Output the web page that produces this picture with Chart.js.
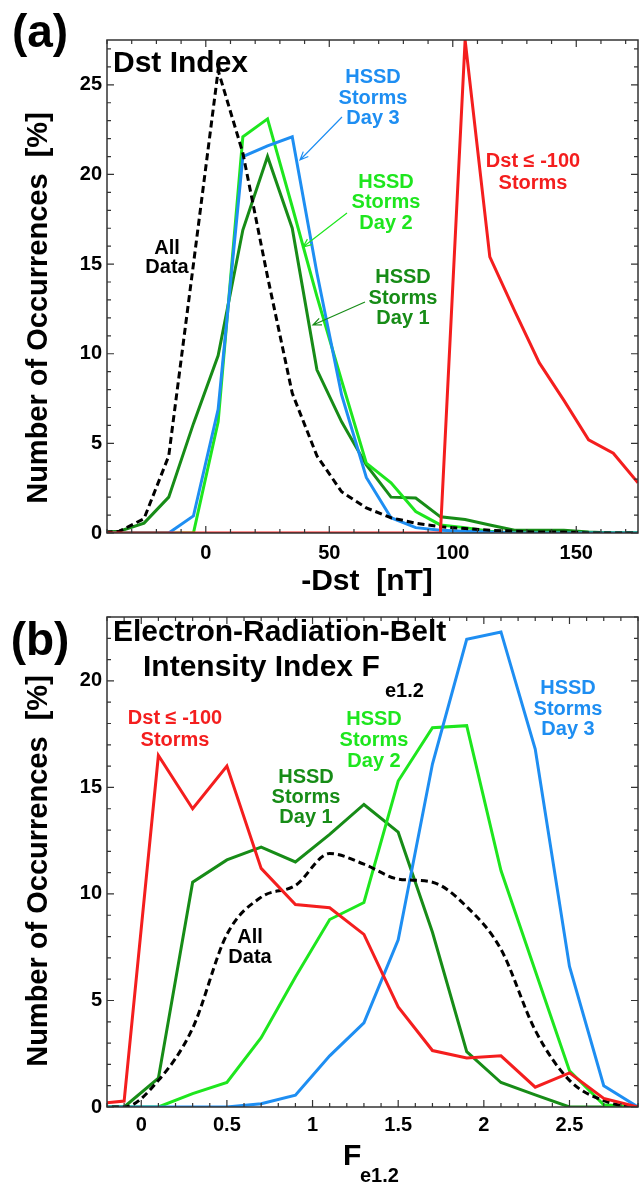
<!DOCTYPE html>
<html>
<head>
<meta charset="utf-8">
<script src="https://cdn.jsdelivr.net/npm/chart.js@4.4.0/dist/chart.umd.min.js"></script>
<style>
    body { margin: 0; background: #fff; }
    canvas { display: block; }
</style>
</head>
<body>
<canvas id="dstChart" width="639" height="600"></canvas>
<canvas id="feChart" width="639" height="586"></canvas>
<script>
// Panel (a): -Dst histogram, bin centres in nT
const dstBins = [-45, -35, -25, -15, -5, 5, 15, 25, 35, 45, 55, 65, 75, 85, 95, 105, 115, 125, 135, 145, 155, 165, 175, 185];
const dstAllData = [0, 0.1, 0.8, 4.3, 15.0, 25.8, 21.2, 14.3, 7.8, 4.3, 2.3, 1.4, 0.85, 0.55, 0.35, 0.25, 0.15, 0.1, 0.05, 0.05, 0, 0, 0, 0];
const dstDay1 = [0, 0.1, 0.55, 2.0, 6.1, 9.9, 16.9, 21.0, 17.0, 9.1, 6.2, 3.8, 2.0, 1.95, 0.9, 0.75, 0.45, 0.15, 0.15, 0.15, 0.05, 0, 0, 0];
const dstDay2 = [0, 0, 0, 0, 0, 6.2, 22.1, 23.1, 18.2, 13.2, 8.5, 3.9, 2.8, 1.2, 0.45, 0.3, 0.1, 0, 0, 0, 0, 0, 0, 0];
const dstDay3 = [0, 0, 0, 0, 0.95, 6.9, 21.0, 21.6, 22.1, 14.5, 7.7, 3.1, 0.85, 0.3, 0.15, 0.1, 0.05, 0, 0, 0, 0, 0, 0, 0];
const dstBigStorms = [0, 0, 0, 0, 0, 0, 0, 0, 0, 0, 0, 0, 0, 0, 0, 27.5, 15.4, 12.4, 9.5, 7.4, 5.2, 4.45, 2.8, 1.5];
const dstTicks = [0, 50, 100, 150];
const dstCountTicks = [0, 5, 10, 15, 20, 25];

// Panel (b): Fe1.2 histogram, bin centres
const feBins = [-0.3, -0.1, 0.1, 0.3, 0.5, 0.7, 0.9, 1.1, 1.3, 1.5, 1.7, 1.9, 2.1, 2.3, 2.5, 2.7, 2.9, 3.1];
const feAllData = [0, 0, 1.25, 3.7, 8.1, 9.85, 10.4, 11.9, 11.4, 10.7, 10.55, 9.4, 7.4, 3.6, 1.25, 0.3, 0, 0];
const feDay1 = [0, 0, 1.35, 10.55, 11.6, 12.2, 11.5, 12.8, 14.2, 12.9, 8.2, 2.6, 1.15, 0.57, 0, 0, 0, 0];
const feDay2 = [0, 0, 0, 0.63, 1.15, 3.25, 6.1, 8.8, 9.6, 15.3, 17.8, 17.9, 11.1, 6.4, 1.7, 0.1, 0, 0];
const feDay3 = [0, 0, 0, 0, 0, 0.15, 0.55, 2.4, 3.95, 7.85, 16.1, 21.95, 22.3, 16.8, 6.6, 1.0, 0, 0];
const feBigStorms = [0.12, 0.28, 16.5, 14.0, 16.0, 11.2, 9.5, 9.35, 8.1, 4.7, 2.65, 2.3, 2.4, 0.93, 1.6, 0.4, 0, 0];
const feTicks = [0, 0.5, 1, 1.5, 2, 2.5];
const feCountTicks = [0, 5, 10, 15, 20];

const RED = "#f41e1e";
const BLUE = "#1e8ef2";
const LIGHTGREEN = "#1ee61e";
const DARKGREEN = "#178c17";
const FONT = "'Liberation Sans', Arial, Helvetica, sans-serif";

function pairs(xs, ys) {
    return xs.map((x, i) => ({ x: x, y: ys[i] }));
}

function makeDatasets(bins, bigStorms, allData, day3, day2, day1, smoothAll) {
    // dataset 0 is drawn on top
    return [
        { data: pairs(bins, bigStorms), borderColor: RED },
        { data: pairs(bins, allData), borderColor: "#000", borderDash: [7, 4], cubicInterpolationMode: smoothAll ? "monotone" : "default" },
        { data: pairs(bins, day3), borderColor: BLUE },
        { data: pairs(bins, day2), borderColor: LIGHTGREEN },
        { data: pairs(bins, day1), borderColor: DARKGREEN }
    ].map(ds => Object.assign({ borderWidth: 3, pointRadius: 0, fill: false, tension: 0 }, ds));
}

function drawLines(ctx, lines, x, ys, color, size) {
    ctx.fillStyle = color;
    ctx.font = "bold " + size + "px " + FONT;
    ctx.textAlign = "center";
    ctx.textBaseline = "middle";
    lines.forEach((t, i) => ctx.fillText(t, x, ys[i]));
}

function drawArrow(ctx, x1, y1, x2, y2, color) {
    const a = Math.atan2(y2 - y1, x2 - x1);
    ctx.strokeStyle = color;
    ctx.lineWidth = 1.2;
    ctx.beginPath();
    ctx.moveTo(x1, y1);
    ctx.lineTo(x2, y2);
    ctx.moveTo(x2 - 9 * Math.cos(a - 0.4), y2 - 9 * Math.sin(a - 0.4));
    ctx.lineTo(x2, y2);
    ctx.lineTo(x2 - 9 * Math.cos(a + 0.4), y2 - 9 * Math.sin(a + 0.4));
    ctx.stroke();
}

// box round the plot with inward ticks on all four sides
function drawFrame(chart, xMajor, xMinor, yMajor, yMinor) {
    const ctx = chart.ctx;
    const area = chart.chartArea;
    const xs = chart.scales.x, ys = chart.scales.y;
    ctx.save();
    ctx.strokeStyle = "#333";
    ctx.lineWidth = 1.5;
    ctx.strokeRect(area.left, area.top, area.right - area.left, area.bottom - area.top);
    ctx.lineWidth = 1.2;
    ctx.beginPath();
    for (let i = Math.ceil(xs.min / xMinor - 1e-9); i * xMinor <= xs.max + 1e-9; i++) {
        const v = i * xMinor;
        const len = Math.abs(v / xMajor - Math.round(v / xMajor)) < 1e-6 ? 7 : 4;
        const px = xs.getPixelForValue(v);
        ctx.moveTo(px, area.bottom); ctx.lineTo(px, area.bottom - len);
        ctx.moveTo(px, area.top); ctx.lineTo(px, area.top + len);
    }
    for (let i = Math.ceil(ys.min / yMinor - 1e-9); i * yMinor <= ys.max + 1e-9; i++) {
        const v = i * yMinor;
        const len = Math.abs(v / yMajor - Math.round(v / yMajor)) < 1e-6 ? 7 : 4;
        const py = ys.getPixelForValue(v);
        ctx.moveTo(area.left, py); ctx.lineTo(area.left + len, py);
        ctx.moveTo(area.right, py); ctx.lineTo(area.right - len, py);
    }
    ctx.stroke();
    ctx.restore();
}

function drawYTitle(ctx, cx, cy) {
    ctx.save();
    ctx.translate(cx, cy);
    ctx.rotate(-Math.PI / 2);
    drawLines(ctx, ["Number of Occurrences  [%]"], 0, [0], "#000", 29);
    ctx.restore();
}

function axisCfg(min, max, tickValues, size, padding) {
    return {
        type: "linear",
        min: min,
        max: max,
        afterBuildTicks: s => { s.ticks = tickValues.map(v => ({ value: v })); },
        afterFit: size,
        ticks: {
            autoSkip: false,
            maxRotation: 0,
            padding: padding,
            color: "#000",
            font: { family: FONT, size: 20, weight: "bold" },
            callback: v => String(v)
        },
        grid: { display: false, drawTicks: false },
        border: { display: false }
    };
}

const dstDecor = {
    id: "dstDecor",
    afterDraw(chart) {
        const ctx = chart.ctx;
        drawFrame(chart, 50, 10, 5, 1);
        ctx.save();
        ctx.fillStyle = "#000";
        ctx.font = "bold 46px " + FONT;
        ctx.textAlign = "center";
        ctx.textBaseline = "middle";
        ctx.fillText("(a)", 40, 34);
        ctx.textAlign = "left";
        ctx.textBaseline = "alphabetic";
        ctx.font = "bold 30px " + FONT;
        ctx.fillText("Dst Index", 113, 72);
        drawYTitle(ctx, 39, 308);
        drawLines(ctx, ["-Dst  [nT]"], 367, [582], "#000", 30);

        drawLines(ctx, ["HSSD", "Storms", "Day 3"], 373, [77, 98, 118], BLUE, 20);
        drawArrow(ctx, 342, 117, 300, 160, BLUE);
        drawLines(ctx, ["HSSD", "Storms", "Day 2"], 386, [182, 202, 223], LIGHTGREEN, 20);
        drawArrow(ctx, 347, 213, 303, 247, LIGHTGREEN);
        drawLines(ctx, ["HSSD", "Storms", "Day 1"], 403, [277, 298, 318], DARKGREEN, 20);
        drawArrow(ctx, 365, 302, 313, 325, DARKGREEN);
        drawLines(ctx, ["Dst \u2264 -100", "Storms"], 533, [161, 183], RED, 20);
        drawLines(ctx, ["All", "Data"], 167, [248, 267], "#000", 20);
        ctx.restore();
    }
};

const feDecor = {
    id: "feDecor",
    afterDraw(chart) {
        const ctx = chart.ctx;
        drawFrame(chart, 0.5, 0.1, 5, 1);
        ctx.save();
        ctx.fillStyle = "#000";
        ctx.font = "bold 46px " + FONT;
        ctx.textAlign = "center";
        ctx.textBaseline = "middle";
        ctx.fillText("(b)", 40, 42);
        ctx.textAlign = "left";
        ctx.textBaseline = "alphabetic";
        ctx.font = "bold 30px " + FONT;
        ctx.fillText("Electron-Radiation-Belt", 113, 41);
        ctx.fillText("Intensity Index F", 143, 76);
        ctx.font = "bold 20px " + FONT;
        ctx.fillText("e1.2", 385, 97);
        drawYTitle(ctx, 39, 271);
        ctx.font = "bold 30px " + FONT;
        ctx.fillText("F", 343, 565);
        ctx.font = "bold 20px " + FONT;
        ctx.fillText("e1.2", 360, 582);

        drawLines(ctx, ["Dst \u2264 -100", "Storms"], 175, [118, 140], RED, 20);
        drawLines(ctx, ["HSSD", "Storms", "Day 1"], 306, [177, 197, 217], DARKGREEN, 20);
        drawLines(ctx, ["HSSD", "Storms", "Day 2"], 374, [119, 140, 161], LIGHTGREEN, 20);
        drawLines(ctx, ["HSSD", "Storms", "Day 3"], 568, [88, 109, 129], BLUE, 20);
        drawLines(ctx, ["All", "Data"], 250, [337, 357], "#000", 20);
        ctx.restore();
    }
};

document.addEventListener("DOMContentLoaded", function () {
    const common = {
        responsive: false,
        animation: false,
        plugins: { legend: { display: false }, tooltip: { enabled: false } }
    };

    new Chart(document.getElementById("dstChart").getContext("2d"), {
        type: "line",
        data: { datasets: makeDatasets(dstBins, dstBigStorms, dstAllData, dstDay3, dstDay2, dstDay1, false) },
        options: Object.assign({}, common, {
            layout: { padding: { top: 40, right: 1, left: 0, bottom: 0 } },
            scales: {
                x: axisCfg(-40, 175, dstTicks, s => { s.height = 67; }, 8),
                y: axisCfg(0, 27.5, dstCountTicks, s => { s.width = 107; }, 5)
            }
        }),
        plugins: [dstDecor]
    });

    new Chart(document.getElementById("feChart").getContext("2d"), {
        type: "line",
        data: { datasets: makeDatasets(feBins, feBigStorms, feAllData, feDay3, feDay2, feDay1, true) },
        options: Object.assign({}, common, {
            layout: { padding: { top: 13, right: 1, left: 0, bottom: 0 } },
            scales: {
                x: axisCfg(-0.2, 2.9, feTicks, s => { s.height = 79; }, 6),
                y: axisCfg(0, 23, feCountTicks, s => { s.width = 107; }, 5)
            }
        }),
        plugins: [feDecor]
    });
});
</script>
</body>
</html>
